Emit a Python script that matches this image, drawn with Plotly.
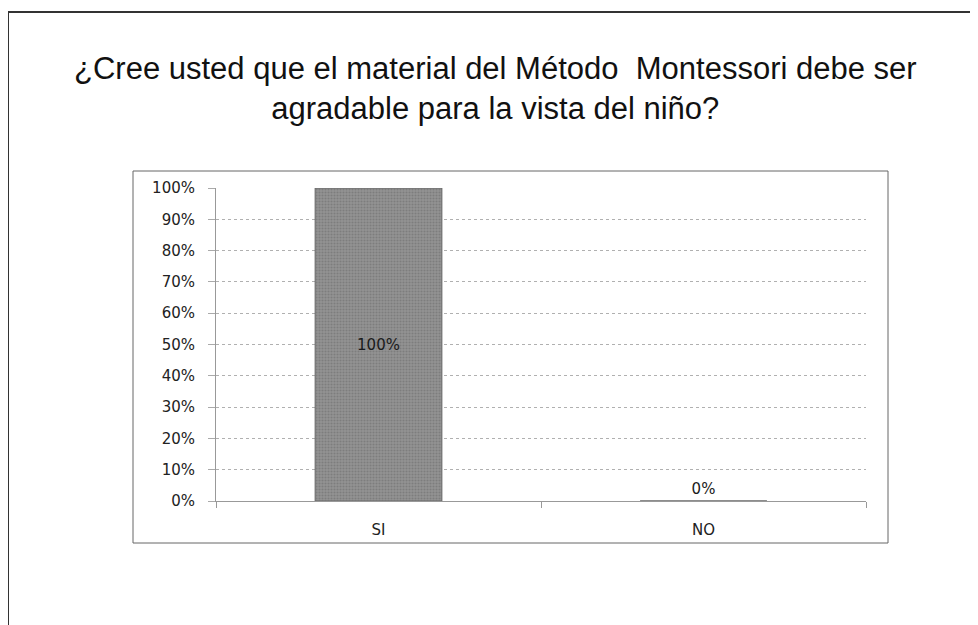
import plotly.graph_objects as go

categories = ["SI", "NO"]
values = [1.0, 0.0]
tick_vals = [0, 0.1, 0.2, 0.3, 0.4, 0.5, 0.6, 0.7, 0.8, 0.9, 1.0]
tick_text = ["0%", "10%", "20%", "30%", "40%", "50%", "60%", "70%", "80%", "90%", "100%"]
title_lines = ["¿Cree usted que el material del Método  Montessori debe ser",
               "agradable para la vista del niño?"]

OFF = 8  # page body margin
W, H = 978 - OFF, 625 - OFF
# plot area in page pixels
L, R, T, B = 216, 866, 188, 501

def px(x):
    return (x - L) / (R - L)

def py(y):
    return (B - y) / (B - T)

fig = go.Figure()
fig.add_trace(go.Bar(
    x=categories, y=values,
    marker=dict(color="#888888", line=dict(color="#666666", width=1),
                pattern=dict(shape=".", fgcolor="#666666", bgcolor="#949494", size=3, solidity=0.4)),
    text=[f"{v:.0%}" for v in values],
    textposition=["inside", "outside"],
    insidetextanchor="middle",
    textfont=dict(family="DejaVu Sans", size=15, color="#1a1a1a"),
    cliponaxis=False,
    width=0.39,
))

shapes = [
    # outer frame
    dict(type="line", xref="paper", yref="paper", x0=px(8), x1=px(1000), y0=py(12), y1=py(12),
         line=dict(color="#333333", width=2)),
    dict(type="line", xref="paper", yref="paper", x0=px(8), x1=px(8), y0=py(12), y1=py(660),
         line=dict(color="#333333", width=2)),
    # inner chart box
    dict(type="rect", xref="paper", yref="paper", x0=px(133), x1=px(888), y0=py(171), y1=py(543),
         line=dict(color="#666666", width=1), fillcolor="rgba(0,0,0,0)"),
]

fig.update_layout(
    width=W, height=H,
    margin=dict(l=L - OFF, r=W - (R - OFF), t=T - OFF, b=H - (B - OFF)),
    paper_bgcolor="white", plot_bgcolor="white",
    showlegend=False,
    shapes=shapes,
    annotations=[dict(
        text="<br>".join(title_lines), xref="paper", yref="paper",
        x=px(495), y=py(88), xanchor="center", yanchor="middle", showarrow=False,
        font=dict(family="Liberation Sans, Arial", size=31, color="#111111"),
    )],
    bargap=0.61,
)
fig.update_xaxes(
    showgrid=False, showline=True, linecolor="#999999", linewidth=1,
    ticks="outside", tickson="boundaries", ticklen=6, tickcolor="#999999",
    tickfont=dict(family="DejaVu Sans", size=15, color="#222222"),
    ticklabelstandoff=15,
)
fig.update_yaxes(
    range=[0, 1], tickvals=tick_vals, ticktext=tick_text,
    showgrid=True, gridcolor="#b0b0b0", griddash="dot", gridwidth=1,
    showline=True, linecolor="#999999", linewidth=1,
    ticks="outside", ticklen=7, tickcolor="#aaaaaa",
    tickfont=dict(family="DejaVu Sans", size=15, color="#222222"),
    ticklabelstandoff=10,
    zeroline=False,
)

fig.write_html("out.html")
